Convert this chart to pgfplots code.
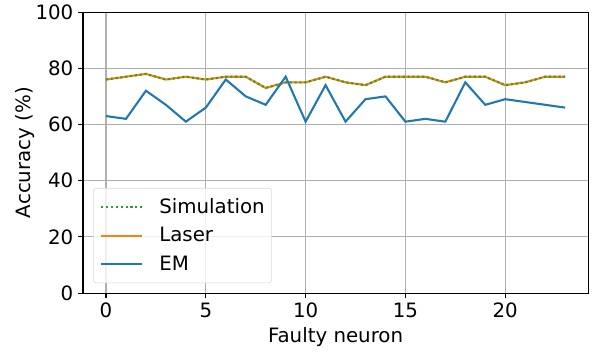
\documentclass[border=0pt]{standalone}
\usepackage{fontspec}
\setmainfont{DejaVu Sans}
\usepackage{pgfplots}
\pgfplotsset{compat=1.18}
\definecolor{tabblue}{HTML}{1F77B4}
\definecolor{taborange}{HTML}{FF7F0E}
\definecolor{tabgreen}{HTML}{2CA02C}
\begin{document}
\begin{tikzpicture}
\begin{axis}[
  scale only axis,
  width=363.6bp, height=202.3bp,
  xmin=-1.15, xmax=24.15, ymin=0, ymax=100,
  xtick={0,5,10,15,20}, ytick={0,20,40,60,80,100},
  /pgf/number format/assume math mode=true,
  tick label style={font=\fontsize{14.3}{16}\selectfont},
  label style={font=\fontsize{14.3}{16}\selectfont},
  xlabel={Faulty neuron}, ylabel={Accuracy (\%)},
  ylabel style={yshift=-6bp},
  grid=major, grid style={color=black!31, line width=0.8bp},
  axis line style={line width=0.8bp},
  tick style={color=black, line width=0.8bp},
  tick align=outside, major tick length=3.5bp,
  xtick pos=bottom, ytick pos=left,
  legend style={at={(rel axis cs:0,0)}, anchor=south west, xshift=7.2bp, yshift=7.2bp,
    draw=black!15, rounded corners=2bp, fill=white, fill opacity=0.8, text opacity=1,
    font=\fontsize{14.3}{16}\selectfont, row sep=4.5bp, column sep=11.5bp,
    inner xsep=5bp, inner ysep=5.5bp,
    nodes={inner xsep=0bp, inner ysep=2bp}},
  legend cell align=left,
  legend image code/.code={\draw[#1] (0bp,0bp) -- (29.5bp,0bp);},
]
\addlegendimage{tabgreen, dotted, line width=1.5bp}
\addlegendentry{Simulation\hspace{6.5bp}}
\addlegendimage{taborange, line width=1.5bp}
\addlegendentry{Laser}
\addlegendimage{tabblue, line width=1.5bp}
\addlegendentry{EM}
\addplot[taborange, line width=1.5bp, forget plot] coordinates {
(0,76)(1,77)(2,78)(3,76)(4,77)(5,76)(6,77)(7,77)(8,73)(9,75)(10,75)(11,77)
(12,75)(13,74)(14,77)(15,77)(16,77)(17,75)(18,77)(19,77)(20,74)(21,75)(22,77)(23,77)};
\addplot[tabgreen, dotted, line width=1.5bp, forget plot] coordinates {
(0,76)(1,77)(2,78)(3,76)(4,77)(5,76)(6,77)(7,77)(8,73)(9,75)(10,75)(11,77)
(12,75)(13,74)(14,77)(15,77)(16,77)(17,75)(18,77)(19,77)(20,74)(21,75)(22,77)(23,77)};
\addplot[tabblue, line width=1.5bp, forget plot] coordinates {
(0,63)(1,62)(2,72)(3,67)(4,61)(5,66)(6,76)(7,70)(8,67)(9,77)(10,61)(11,74)
(12,61)(13,69)(14,70)(15,61)(16,62)(17,61)(18,75)(19,67)(20,69)(21,68)(22,67)(23,66)};
\end{axis}
\path ([xshift=-59.8bp,yshift=-39.6bp]current axis.south west) rectangle ([xshift=8.6bp,yshift=7.9bp]current axis.north east);
\end{tikzpicture}
\end{document}
